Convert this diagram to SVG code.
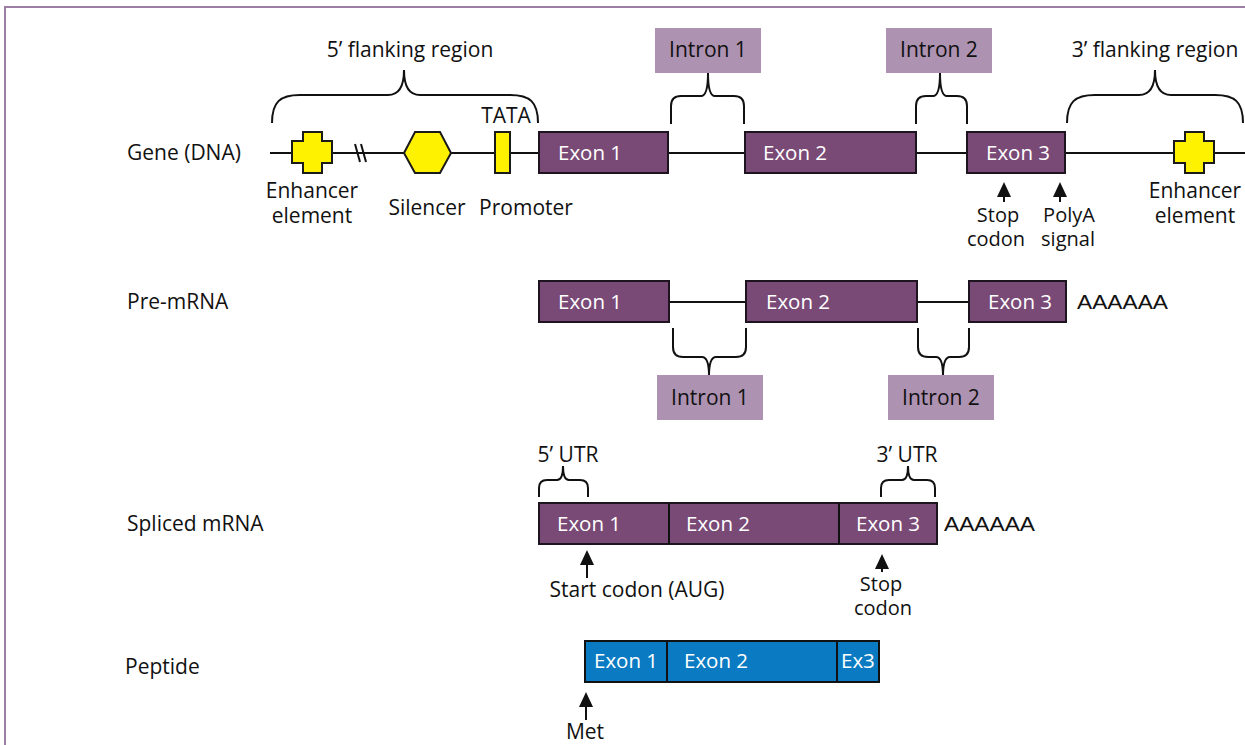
<svg xmlns="http://www.w3.org/2000/svg" width="1245" height="745" viewBox="0 0 1245 745">
  <style>
    text { font-family: "Open Sans", "Liberation Sans", sans-serif; font-size: 21px; fill: #111; }
    .w { fill: #fff; font-size: 20.5px; }
    .mid { text-anchor: middle; }
    .sm { font-size: 20px; }
    .poly { font-family: "Liberation Sans", Arial, sans-serif; font-size: 21px; }
    .exon { fill: #7a4a77; stroke: #1e1420; stroke-width: 2; }
    .pep { fill: #0a7bc2; stroke: #111; stroke-width: 2; }
    .intron { fill: #ae92b1; }
    .yel { fill: #fff200; stroke: #1a1a1a; stroke-width: 2; }
    .ln { stroke: #111; stroke-width: 2; fill: none; }
    .brace { stroke: #111; stroke-width: 2; fill: none; }
    .arrow { stroke: #111; stroke-width: 2; marker-end: url(#head); }
    .frame { stroke: #9c7ea3; stroke-width: 2; fill: none; }
  </style>
  <defs>
    <marker id="head" viewBox="0 0 15 14" refX="11" refY="7" markerWidth="15" markerHeight="14" markerUnits="userSpaceOnUse" orient="auto">
      <path d="M0,0 L15,7 L0,14 z" fill="#111"/>
    </marker>
  </defs>

  <rect width="1245" height="745" fill="#fff"/>
  <!-- panel frame (top and left edges) -->
  <path class="frame" d="M5,746 L5,7 L1246,7"/>

  <!-- row labels -->
  <g id="row-labels">
    <text x="127" y="160">Gene (DNA)</text>
    <text x="127" y="309">Pre-mRNA</text>
    <text x="127" y="531">Spliced mRNA</text>
    <text x="125" y="674">Peptide</text>
  </g>

  <!-- connectors: backbones, braces, arrows -->
  <g id="connectors">
    <!-- DNA backbone -->
    <line class="ln" x1="270" y1="153" x2="1245" y2="153"/>
    <!-- break mark -->
    <line class="ln" x1="355" y1="144" x2="360" y2="162"/>
    <line class="ln" x1="361" y1="144" x2="366" y2="162"/>
    <!-- pre-mRNA intron lines -->
    <line class="ln" x1="669" y1="302" x2="746" y2="302"/>
    <line class="ln" x1="917" y1="302" x2="969" y2="302"/>

    <!-- gene braces (pointing up) -->
    <path class="brace" d="M272,123 C272,102 280,95 300,95 L388,95 Q404,95 404,70 Q404,95 420,95 L510,95 C530,95 538,102 538,123"/>
    <path class="brace" d="M671,124 L671,106 Q671,96 681,96 L701,96 Q708,96 708,73 Q708,96 715,96 L734,96 Q744,96 744,106 L744,124"/>
    <path class="brace" d="M916,124 L916,106 Q916,96 926,96 L933,96 Q940,96 940,73 Q940,96 947,96 L957,96 Q967,96 967,106 L967,124"/>
    <path class="brace" d="M1067,123 C1067,102 1075,95 1095,95 L1139,95 Q1155,95 1155,70 Q1155,95 1171,95 L1215,95 C1235,95 1243,102 1243,123"/>

    <!-- pre-mRNA braces (pointing down) -->
    <path class="brace" d="M673,328 L673,347 Q673,357 683,357 L702,357 Q709,357 709,376 Q709,357 716,357 L736,357 Q746,357 746,347 L746,328"/>
    <path class="brace" d="M918,328 L918,347 Q918,357 928,357 L936,357 Q943,357 943,376 Q943,357 950,357 L959,357 Q969,357 969,347 L969,328"/>

    <!-- UTR braces -->
    <path class="brace" d="M539,497 L539,488 Q539,480 547,480 L557,480 Q563,480 563,466 Q563,480 569,480 L580,480 Q588,480 588,488 L588,497"/>
    <path class="brace" d="M881,497 L881,488 Q881,480 889,480 L902,480 Q908,480 908,466 Q908,480 914,480 L927,480 Q935,480 935,488 L935,497"/>

    <!-- arrows -->
    <line class="arrow" x1="1004" y1="202" x2="1004" y2="186"/>
    <line class="arrow" x1="1060" y1="202" x2="1060" y2="186"/>
    <line class="arrow" x1="587" y1="578" x2="587" y2="554"/>
    <line class="arrow" x1="882" y1="572" x2="882" y2="558"/>
    <line class="arrow" x1="586" y1="720" x2="586" y2="696"/>
  </g>

  <!-- gene (DNA) row -->
  <g id="flank5">
    <text x="410" y="57" class="mid">5’ flanking region</text>
  </g>
  <g id="flank3">
    <text x="1155" y="57" class="mid">3’ flanking region</text>
  </g>
  <g id="enhancer-5">
    <path class="yel" d="M303,132 H322 V141 H332 V163 H322 V173 H303 V163 H292 V141 H303 Z"/>
    <text x="312" y="198" class="mid">Enhancer</text>
    <text x="312" y="223" class="mid">element</text>
  </g>
  <g id="silencer">
    <polygon class="yel" points="404,153 415,132 440,132 451,153 440,173 415,173"/>
    <text x="427" y="215" class="mid">Silencer</text>
  </g>
  <g id="promoter">
    <rect class="yel" x="495" y="132" width="15" height="41"/>
    <text x="506" y="123" class="mid">TATA</text>
    <text x="526" y="215" class="mid">Promoter</text>
  </g>
  <g id="gene-exon1">
    <rect class="exon" x="539" y="132" width="129" height="41"/>
    <text x="558" y="160" class="w">Exon 1</text>
  </g>
  <g id="gene-intron1">
    <rect class="intron" x="655" y="28" width="106" height="45"/>
    <text x="708" y="57" class="mid">Intron 1</text>
  </g>
  <g id="gene-exon2">
    <rect class="exon" x="745" y="132" width="171" height="41"/>
    <text x="763" y="160" class="w">Exon 2</text>
  </g>
  <g id="gene-intron2">
    <rect class="intron" x="886" y="28" width="106" height="45"/>
    <text x="939" y="57" class="mid">Intron 2</text>
  </g>
  <g id="gene-exon3">
    <rect class="exon" x="967" y="132" width="98" height="41"/>
    <text x="986" y="160" class="w">Exon 3</text>
  </g>
  <g id="stop-codon-dna">
    <text x="998" y="222" class="mid sm">Stop</text>
    <text x="996" y="246" class="mid sm">codon</text>
  </g>
  <g id="polya-signal">
    <text x="1069" y="222" class="mid sm">PolyA</text>
    <text x="1068" y="246" class="mid sm">signal</text>
  </g>
  <g id="enhancer-3">
    <path class="yel" d="M1185,132 H1204 V141 H1214 V163 H1204 V173 H1185 V163 H1174 V141 H1185 Z"/>
    <text x="1195" y="198" class="mid">Enhancer</text>
    <text x="1195" y="223" class="mid">element</text>
  </g>

  <!-- pre-mRNA row -->
  <g id="pre-exon1">
    <rect class="exon" x="539" y="281" width="130" height="41"/>
    <text x="558" y="309" class="w">Exon 1</text>
  </g>
  <g id="pre-exon2">
    <rect class="exon" x="746" y="281" width="171" height="41"/>
    <text x="766" y="309" class="w">Exon 2</text>
  </g>
  <g id="pre-exon3">
    <rect class="exon" x="969" y="281" width="97" height="41"/>
    <text x="988" y="309" class="w">Exon 3</text>
    <text x="1077" y="309" class="poly" textLength="91" lengthAdjust="spacingAndGlyphs">AAAAAA</text>
  </g>
  <g id="pre-intron1">
    <rect class="intron" x="657" y="375" width="106" height="45"/>
    <text x="710" y="405" class="mid">Intron 1</text>
  </g>
  <g id="pre-intron2">
    <rect class="intron" x="888" y="375" width="106" height="45"/>
    <text x="941" y="405" class="mid">Intron 2</text>
  </g>

  <!-- spliced mRNA row -->
  <g id="mrna">
    <rect class="exon" x="539" y="503" width="398" height="41"/>
    <line class="ln" x1="669" y1="503" x2="669" y2="544"/>
    <line class="ln" x1="839" y1="503" x2="839" y2="544"/>
    <text x="557" y="531" class="w">Exon 1</text>
    <text x="686" y="531" class="w">Exon 2</text>
    <text x="856" y="531" class="w">Exon 3</text>
    <text x="944" y="531" class="poly" textLength="91" lengthAdjust="spacingAndGlyphs">AAAAAA</text>
  </g>
  <g id="utr5">
    <text x="568" y="462" class="mid">5’ UTR</text>
  </g>
  <g id="utr3">
    <text x="907" y="462" class="mid">3’ UTR</text>
  </g>
  <g id="start-codon">
    <text x="637" y="597" class="mid">Start codon (AUG)</text>
  </g>
  <g id="stop-codon-mrna">
    <text x="881" y="591" class="mid sm">Stop</text>
    <text x="883" y="615" class="mid sm">codon</text>
  </g>

  <!-- peptide row -->
  <g id="peptide">
    <rect class="pep" x="585" y="641" width="294" height="41"/>
    <line class="ln" x1="667" y1="641" x2="667" y2="682"/>
    <line class="ln" x1="837" y1="641" x2="837" y2="682"/>
    <text x="594" y="668" class="w">Exon 1</text>
    <text x="684" y="668" class="w">Exon 2</text>
    <text x="841" y="668" class="w">Ex3</text>
  </g>
  <g id="met">
    <text x="585" y="739" class="mid">Met</text>
  </g>
</svg>
